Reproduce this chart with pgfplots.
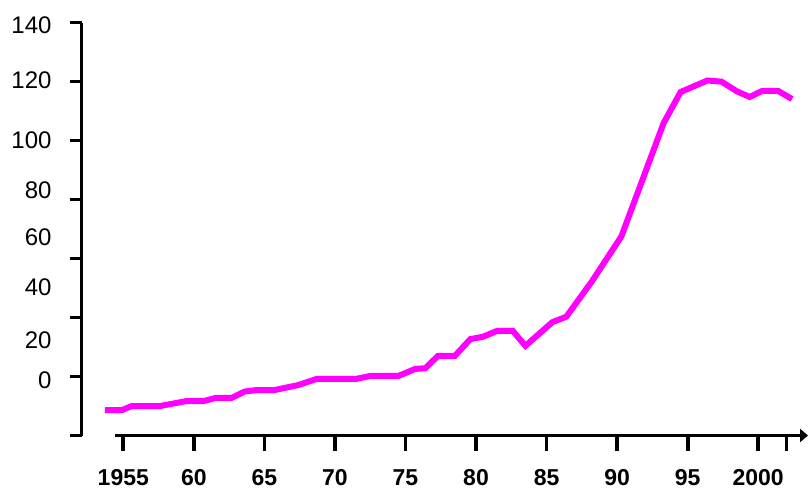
\documentclass[border=0pt]{standalone}
\usepackage{pgfplots}
\pgfplotsset{compat=1.18}
\usepackage{fontspec}
\setmainfont{Liberation Sans}
\usetikzlibrary{arrows.meta}
\definecolor{lineMagenta}{RGB}{255,0,255}

\pgfplotsset{
  base/.style={
    width=726.3pt, height=412.8pt, scale only axis,
    xmin=1952.05, xmax=2003.53, ymin=0, ymax=140,
    clip=false,
  },
}

\begin{document}
\begin{tikzpicture}
\useasboundingbox (-81.7pt,-54.5pt) rectangle (726.3pt,435.5pt);

% y axis with tick marks, and the data
\begin{axis}[base,
  hide x axis,
  axis y line=left,
  y axis line style={line width=3.2pt, -},
  ytick={0,20,...,140}, yticklabels={},
  tick align=outside, major tick length=12pt,
  ytick style={line width=3.6pt, black},
]
\addplot[line width=6pt, color=lineMagenta, mark=none] coordinates {
  (1953.7,8.6) (1954.9,8.6) (1955.6,10.0) (1957.6,10.0) (1959.5,11.7)
  (1960.7,11.7) (1961.6,12.8) (1962.7,12.8) (1963.6,14.9) (1964.4,15.4)
  (1965.7,15.4) (1967.4,17.1) (1968.7,19.2) (1971.5,19.2) (1972.5,20.2)
  (1974.5,20.2) (1975.7,22.6) (1976.4,22.8) (1977.3,27.0) (1978.5,27.0)
  (1979.6,32.7) (1980.5,33.5) (1981.5,35.5) (1982.6,35.5) (1983.5,30.4)
  (1985.4,38.4) (1986.4,40.3) (1988.2,52.2) (1990.3,67.5) (1993.3,106.0)
  (1994.5,116.5) (1996.4,120.4) (1997.4,120.0) (1998.5,116.7) (1999.4,114.8)
  (2000.3,116.9) (2001.4,116.9) (2002.4,114.1)
};
\end{axis}

% y labels (set off the tick marks, as in the original)
\begin{axis}[base,
  hide x axis,
  axis y line=left,
  y axis line style={draw=none},
  ytick={18.7,32.2,50.2,67.2,83.1,100.1,120.5,139.1},
  yticklabels={0,20,40,60,80,100,120,140},
  major tick length=0pt,
  ytick style={draw=none},
  yticklabel style={font=\fontsize{24}{24}\selectfont, inner sep=0pt, anchor=east, xshift=-30pt},
]
\end{axis}

% x axis
\begin{axis}[base,
  hide y axis,
  axis x line=bottom,
  x axis line style={draw=none},
  xtick={1955,1960,...,2000,2002},
  xticklabels={1955,60,65,70,75,80,85,90,95,2000,},
  tick align=outside, major tick length=15pt,
  xtick style={line width=3.8pt, black},
  xticklabel style={font=\bfseries\fontsize{23}{23}\selectfont, inner sep=0pt, anchor=center, yshift=-27pt},
]
\draw[line width=2.6pt, -{Triangle[length=8pt, width=13pt]}]
  (axis cs:1954.41,0) -- (axis cs:2003.53,0);
\end{axis}
\end{tikzpicture}
\end{document}
